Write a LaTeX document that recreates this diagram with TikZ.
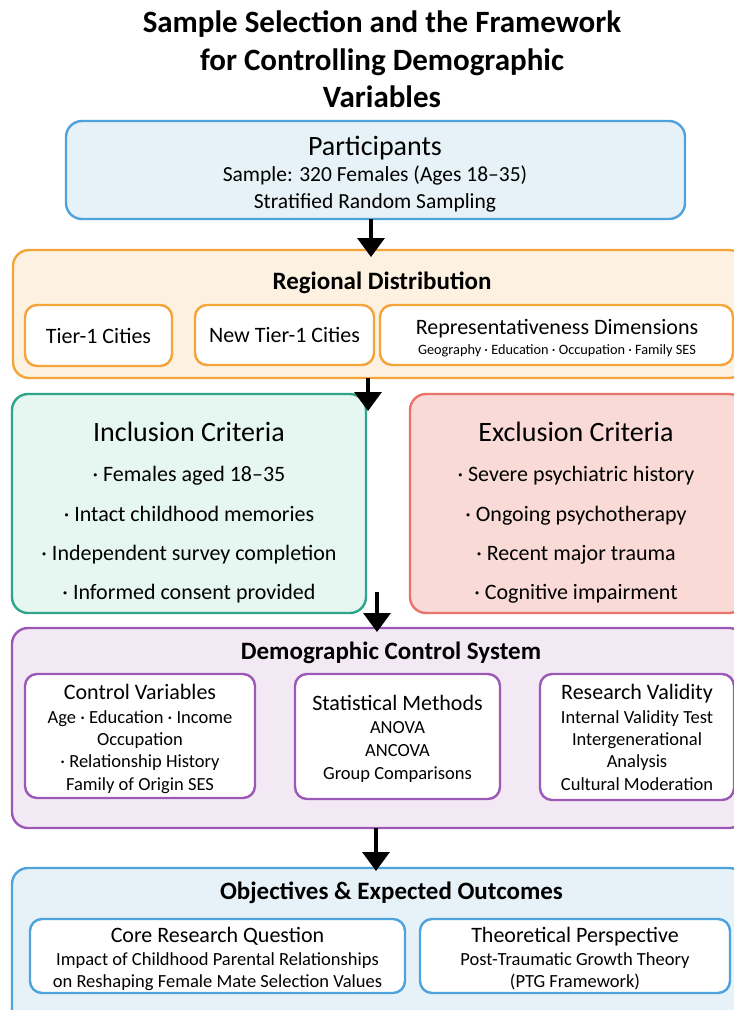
\documentclass[tikz,border=0pt]{standalone}
\usepackage{fontspec}
\setmainfont{Carlito}
\usetikzlibrary{arrows.meta}
\definecolor{bluestroke}{HTML}{4FA3DB}
\definecolor{bluefill}{HTML}{E7F2F8}
\definecolor{orstroke}{HTML}{F5A43A}
\definecolor{orfill}{HTML}{FDF1E2}
\definecolor{grstroke}{HTML}{2EA58A}
\definecolor{grfill}{HTML}{E6F6F1}
\definecolor{rdstroke}{HTML}{E9746B}
\definecolor{rdfill}{HTML}{F9DAD7}
\definecolor{pustroke}{HTML}{9B59B6}
\definecolor{pufill}{HTML}{F3E9F5}
\tikzset{
  bigbox/.style={draw, line width=2.4pt, rounded corners=16pt},
  subbox/.style={draw, fill=white, line width=2.4pt, rounded corners=12pt},
  flowarrow/.style={line width=3.5pt, -{Triangle[width=27pt,length=19pt]}},
  txt/.style={inner sep=0pt, anchor=base},
  ttl/.style={txt, font=\fontsize{31}{36}\selectfont\bfseries},
  sect/.style={txt, font=\fontsize{25}{29}\selectfont\bfseries},
  head/.style={txt, font=\fontsize{28}{32}\selectfont},
  item/.style={txt, font=\fontsize{22}{26}\selectfont},
  subhead/.style={txt, font=\fontsize{22}{26}\selectfont},
  small/.style={txt, font=\fontsize{18.5}{22}\selectfont},
}
\begin{document}
\begin{tikzpicture}[x=1pt,y=-1pt]
\clip (0,0) rectangle (734,1010);
\useasboundingbox (0,0) rectangle (734,1010);
\fill[white] (0,0) rectangle (734,1010);
% title
\node[ttl] (t1) at (382,32) {Sample Selection and the Framework};
\node[ttl] (t2) at (382,70) {for Controlling Demographic};
\node[ttl] (t3) at (382,107) {Variables};
% participants
\draw[bigbox, draw=bluestroke, fill=bluefill] (66,121) rectangle (685,219);
\node[inner sep=0pt] (part) at (375.5,170) [minimum width=619pt, minimum height=98pt] {};
\node[head] (pt) at (375,155) {Participants};
\node[txt, font=\fontsize{21.5}{25}\selectfont] (p1) at (375,181.5) {Sample: 320 Females (Ages 18–35)};
\node[txt, font=\fontsize{21.5}{25}\selectfont] (p2) at (375,208.5) {Stratified Random Sampling};
% regional
\draw[bigbox, draw=orstroke, fill=orfill] (13,250) rectangle (745,378);
\node[inner sep=0pt, minimum width=732pt, minimum height=128pt] (reg) at (379,314) {};
\node[sect] (rt) at (382,289) {Regional Distribution};
\draw[subbox, draw=orstroke] (25,305) rectangle (172,366);
\node[item] (r1) at (98.5,343.5) {Tier-1 Cities};
\draw[subbox, draw=orstroke] (195,305) rectangle (374,365);
\node[item] (r2) at (284.5,342.5) {New Tier-1 Cities};
\draw[subbox, draw=orstroke] (380,305) rectangle (733,365);
\node[item] (r3) at (557,334.5) {Representativeness Dimensions};
\node[txt, font=\fontsize{14.3}{17}\selectfont] (r4) at (557,354) {Geography · Education · Occupation · Family SES};
% inclusion
\draw[bigbox, draw=grstroke, fill=grfill] (12,394) rectangle (366,613);
\node[inner sep=0pt, minimum width=354pt, minimum height=219pt] (inc) at (189,503.5) {};
\node[head] (it) at (189,441.5) {Inclusion Criteria};
\node[item] (i1) at (189,481.5) {· Females aged 18–35};
\node[item] (i2) at (189,521.5) {· Intact childhood memories};
\node[item] (i3) at (189,560.5) {· Independent survey completion};
\node[item] (i4) at (189,599.5) {· Informed consent provided};
% exclusion
\draw[bigbox, draw=rdstroke, fill=rdfill] (410,394) rectangle (745,613);
\node[head] (et) at (576,441.5) {Exclusion Criteria};
\node[item] (e1) at (576,481.5) {· Severe psychiatric history};
\node[item] (e2) at (576,521.5) {· Ongoing psychotherapy};
\node[item] (e3) at (576,560.5) {· Recent major trauma};
\node[item] (e4) at (576,599.5) {· Cognitive impairment};
% demographic
\draw[bigbox, draw=pustroke, fill=pufill] (12,628) rectangle (745,828);
\node[inner sep=0pt, minimum width=733pt, minimum height=200pt] (demo) at (378.5,728) {};
\node[sect] (dt) at (391,659.5) {Demographic Control System};
\draw[subbox, draw=pustroke] (25,674) rectangle (255,798);
\node[subhead] (c0) at (140,699.5) {Control Variables};
\node[small] (c1) at (140,723.5) {Age · Education · Income};
\node[small] (c2) at (140,745.5) {Occupation};
\node[small] (c3) at (140,767.5) {· Relationship History};
\node[small] (c4) at (140,790.5) {Family of Origin SES};
\draw[subbox, draw=pustroke] (295,674) rectangle (500,799);
\node[subhead] (s0) at (397.5,710.5) {Statistical Methods};
\node[small] (s1) at (397.5,733.5) {ANOVA};
\node[small] (s2) at (397.5,756.5) {ANCOVA};
\node[small] (s3) at (397.5,779.5) {Group Comparisons};
\draw[subbox, draw=pustroke] (540,674) rectangle (734,800);
\node[subhead] (v0) at (637,699.5) {Research Validity};
\node[small] (v1) at (637,723.5) {Internal Validity Test};
\node[small] (v2) at (637,745.5) {Intergenerational};
\node[small] (v3) at (637,767.5) {Analysis};
\node[small] (v4) at (637,790.5) {Cultural Moderation};
% objectives
\draw[bigbox, draw=bluestroke, fill=bluefill] (12,868) rectangle (745,1025);
\node[inner sep=0pt, minimum width=733pt, minimum height=157pt] (obj) at (378.5,946.5) {};
\node[sect] (ot) at (391.5,899.5) {Objectives \& Expected Outcomes};
\draw[subbox, draw=bluestroke] (30,919) rectangle (405,993);
\node[subhead] (q0) at (217.5,942.5) {Core Research Question};
\node[small] (q1) at (217.5,965.5) {Impact of Childhood Parental Relationships};
\node[small] (q2) at (217.5,987.5) {on Reshaping Female Mate Selection Values};
\draw[subbox, draw=bluestroke] (420,919) rectangle (730,993);
\node[subhead] (h0) at (575,942.5) {Theoretical Perspective};
\node[small] (h1) at (575,965.5) {Post-Traumatic Growth Theory};
\node[small] (h2) at (575,987.5) {(PTG Framework)};
% arrows
\coordinate (a1s) at (part.south -| 371,0);
\coordinate (a1e) at (371,257);
\coordinate (a2s) at (reg.south -| 368,0);
\coordinate (a2e) at (368,411);
\coordinate (a3s) at (377,592);
\coordinate (a3e) at (377,632);
\coordinate (a4s) at (demo.south -| 376,0);
\coordinate (a4e) at (376,871);
\draw[flowarrow] (a1s) -- (a1e);
\draw[flowarrow] (a2s) -- (a2e);
\draw[flowarrow] (a3s) -- (a3e);
\draw[flowarrow] (a4s) -- (a4e);
\end{tikzpicture}
\end{document}
